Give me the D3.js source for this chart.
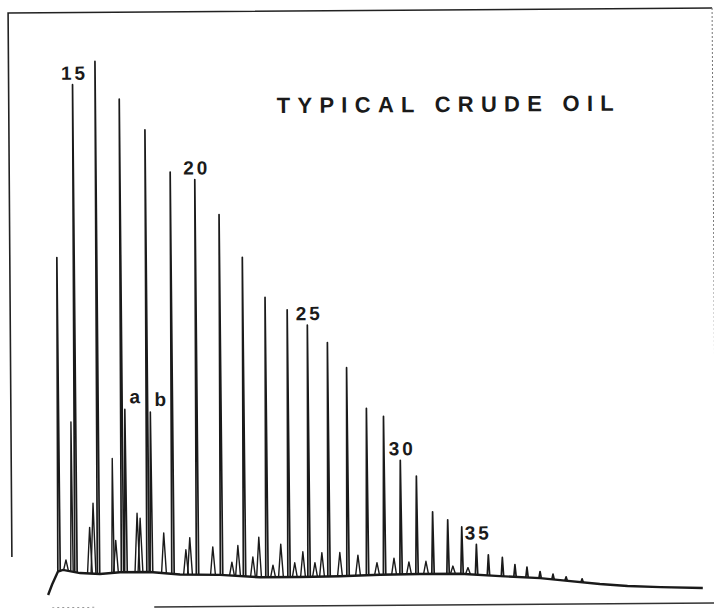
<!DOCTYPE html>
<html>
<head>
<meta charset="utf-8">
<script src="https://cdn.jsdelivr.net/npm/d3@7"></script>
<style>
  body { margin: 0; background: #fff; }
  svg { display: block; }
</style>
</head>
<body>
<script>
// n-alkanes: carbon number, retention time (min), response
var carbon = [14, 15, 16, 17, 18, 19, 20, 21, 22, 23, 24, 25, 26, 27, 28,
              29, 30, 31, 32, 33, 34, 35, 36, 37, 38, 39, 40, 41, 42, 43];
var alkaneTime = [1.14, 2.42, 4.13, 5.95, 7.88, 9.77, 11.63, 13.45, 15.19, 16.89,
                  18.56, 20.08, 21.59, 23.03, 24.51, 25.8, 27.05, 28.26, 29.47, 30.61,
                  31.67, 32.77, 33.67, 34.73, 35.68, 36.59, 37.58, 38.56, 39.55, 40.76];
var alkaneHeight = [62.2, 93.6, 97.8, 90.9, 85.3, 77.6, 76.2, 69.8, 62.0, 54.7,
                    52.4, 49.6, 46.4, 41.8, 34.4, 32.9, 24.9, 22.0, 15.5, 14.0,
                    12.7, 9.5, 7.6, 7.1, 5.8, 5.3, 4.5, 4.0, 3.5, 3.1];
var labelledCarbon = [15, 20, 25, 30, 35];

// isoprenoids: a = pristane, b = phytane
var isoName = ["a", "b"];
var isoTime = [6.21, 8.14];
var isoHeight = [34.5, 34.0];

// minor peaks riding on the hump
var minorTime = [1.67, 2.12, 3.48, 3.75, 5.23, 5.45, 7.08, 7.31, 9.09, 10.76,
                 11.06, 12.8, 14.24, 14.7, 15.83, 16.29, 17.35, 17.95, 19.0, 19.62,
                 20.53, 21.06, 22.42, 23.79, 25.23, 26.52, 27.65, 28.94, 30.98, 32.12];
var minorHeight = [7.2, 32.3, 13.1, 17.5, 25.6, 10.7, 15.6, 14.7, 12.0, 8.9,
                   11.1, 9.4, 6.6, 9.6, 7.5, 11.1, 6.0, 9.8, 6.4, 8.4,
                   6.4, 8.2, 8.2, 7.7, 6.3, 7.1, 6.4, 6.5, 5.6, 5.3];

// baseline (unresolved hump)
var baseTime = [0.3, 0.6, 1.06, 1.44, 2.73, 4.24, 5.76, 8.03, 10.3, 13.33, 16.36, 19.39,
                22.42, 25.45, 28.48, 31.52, 34.55, 37.58, 39.1, 42.1, 44.2, 46.7, 49.9];
var baseLevel = [0.85, 2.7, 5.1, 5.4, 4.8, 4.6, 4.9, 4.9, 4.4, 4.3, 3.8, 3.8,
                 3.9, 4.1, 4.2, 4.2, 3.7, 3.3, 2.9, 2.15, 1.75, 1.5, 1.3];

var title = "TYPICAL CRUDE OIL";

var width = 714, height = 608;
var ink = "#1a1a1a";

// set the ranges
var x = d3.scaleLinear().domain([0, 50]).range([40, 700]);
var y = d3.scaleLinear().domain([0, 100]).range([600, 50]);

// baseline level at any time (piecewise scale through the read points)
var base = d3.scaleLinear().domain(baseTime).range(baseLevel).clamp(true);

var svg = d3.select("body").append("svg")
    .attr("width", width)
    .attr("height", height);

// the scanned page sits slightly tilted
var g = svg.append("g")
    .attr("transform", "rotate(-0.4)");

// frame
var frame = g.append("g").attr("fill", "none");
frame.append("path")
    .attr("d", "M8,557V13H712")
    .attr("stroke", "#222")
    .attr("stroke-width", 1.6);
frame.append("path")
    .attr("d", "M712,13V480")
    .attr("stroke", "#777")
    .attr("stroke-width", 1)
    .attr("stroke-dasharray", "2,2");
frame.append("path")
    .attr("d", "M48,608H92")
    .attr("stroke", "#999")
    .attr("stroke-width", 1)
    .attr("stroke-dasharray", "2,3");
frame.append("path")
    .attr("d", "M150,608H714")
    .attr("stroke", "#333")
    .attr("stroke-width", 1.6);

var line = d3.line()
    .x(function(d) { return x(d[0]); })
    .y(function(d) { return y(d[1]); });

// baseline trace
g.append("path")
    .attr("d", line(d3.zip(baseTime, baseLevel)))
    .attr("fill", "none")
    .attr("stroke", ink)
    .attr("stroke-width", 2.4);

// a peak: up from the baseline to the apex and back down
function spike(t, h, halfPx) {
  var dt = halfPx / (x(1) - x(0));
  return line([[t - dt, base(t - dt)], [t, h], [t + dt, base(t + dt)]]);
}

function drawPeaks(times, heights, cls, sw, halfFn) {
  g.selectAll("path." + cls)
      .data(d3.zip(times, heights))
    .enter().append("path")
      .attr("class", cls)
      .attr("d", function(d) { return spike(d[0], d[1], halfFn(d)); })
      .attr("fill", "none")
      .attr("stroke", ink)
      .attr("stroke-width", sw)
      .attr("stroke-linejoin", "round");
}

drawPeaks(minorTime, minorHeight, "minor", 1.4,
    function(d) { return d[1] > 20 ? 1.2 : 2.4; });
drawPeaks(isoTime, isoHeight, "iso", 1.6, function() { return 1.3; });
drawPeaks(alkaneTime, alkaneHeight, "alkane", 1.7, function() { return 1.2; });

// carbon number labels over the peaks
var labelFont = "'Liberation Sans', Arial, Helvetica, sans-serif";
g.selectAll("text.cn")
    .data(labelledCarbon)
  .enter().append("text")
    .attr("class", "cn")
    .attr("x", function(c) { return x(alkaneTime[carbon.indexOf(c)]) + 2; })
    .attr("y", function(c) { return y(alkaneHeight[carbon.indexOf(c)]) - 5; })
    .attr("text-anchor", "middle")
    .style("font-family", labelFont)
    .style("font-weight", "bold")
    .style("font-size", "19px")
    .style("letter-spacing", "3px")
    .attr("fill", ink)
    .text(function(c) { return c; });

// a / b
g.selectAll("text.iso")
    .data(d3.zip(isoName, isoTime, isoHeight))
  .enter().append("text")
    .attr("class", "iso")
    .attr("x", function(d) { return x(d[1]) + 10; })
    .attr("y", function(d) { return y(d[2]) - 6; })
    .attr("text-anchor", "middle")
    .style("font-family", labelFont)
    .style("font-weight", "bold")
    .style("font-size", "19px")
    .attr("fill", ink)
    .text(function(d) { return d[0]; });

// title
g.append("text")
    .attr("x", 276)
    .attr("y", 115)
    .attr("textLength", 337)
    .attr("lengthAdjust", "spacing")
    .style("font-family", labelFont)
    .style("font-weight", "bold")
    .style("font-size", "22px")
    .attr("fill", ink)
    .text(title);
</script>
</body>
</html>
